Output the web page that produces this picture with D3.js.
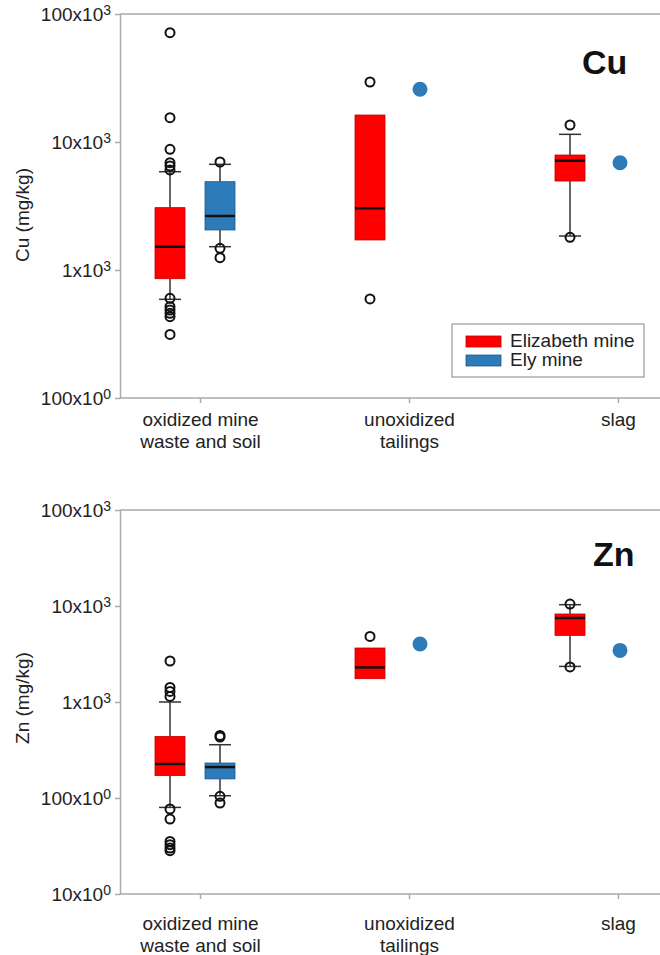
<!DOCTYPE html>
<html>
<head>
<meta charset="utf-8">
<script src="https://cdn.jsdelivr.net/npm/d3@7"></script>
<style>
  body { margin: 0; background: #fff; }
  svg { font-family: "Liberation Sans", Arial, sans-serif; }
</style>
</head>
<body>
<div id="chart"></div>
<script>
// categories and series
const categories = ["oxidized mine waste and soil", "unoxidized tailings", "slag"];
const categoryLines = [["oxidized mine", "waste and soil"], ["unoxidized", "tailings"], ["slag"]];
const mines = ["Elizabeth mine", "Ely mine"];
const mineColors = ["#ff0000", "#2e7bba"];

// box stats: [lower whisker, q1, median, q3, upper whisker] (null = not drawn)
const cuElizabeth = [[590, 855, 1520, 3070, 5860], [null, 1716, 3034, 16250, null], [1843, 4956, 7142, 7913, 11480]];
const cuElizabethOutliers = [[71450, 15490, 8770, 6890, 6494, 6045, 601, 517, 487, 459, 432, 314], [29420, 594], [13580, 1800]];
const cuEly = [[1521, 2054, 2642, 4896, 6690], null, null];
const cuElyOutliers = [[6980, 1477, 1248], [], []];
const cuElyPoints = [null, 25800, 6890];

const znElizabeth = [[79.8, 171, 226, 438, 1000], [null, 1749, 2291, 3651, null], [2349, 4943, 7499, 8254, 10320]];
const znElizabethOutliers = [[2673, 1419, 1290, 1144, 76.8, 60.4, 35.3, 32.6, 30.1, 28.3], [4822], [10480, 2316]];
const znEly = [[105.6, 158, 210, 231.5, 359], null, null];
const znElyOutliers = [[449, 432, 104, 88.7], [], []];
const znElyPoints = [null, 4018, 3448];

const cuTicks = [100, 1000, 10000, 100000];
const cuTickLabels = [["100x10", "0"], ["1x10", "3"], ["10x10", "3"], ["100x10", "3"]];
const znTicks = [10, 100, 1000, 10000, 100000];
const znTickLabels = [["10x10", "0"], ["100x10", "0"], ["1x10", "3"], ["10x10", "3"], ["100x10", "3"]];

const width = 660, height = 955;
const left = 120, right = 660;

const svg = d3.select("#chart").append("svg")
  .attr("width", width)
  .attr("height", height);

// group positions (boxes) and tick positions (labels)
const xGroup = d3.scalePoint().domain(categories).range([195, 595]);
const xTick = d3.scalePoint().domain(categories).range([200, 618]);
const offset = 25, boxW = 30, capW = 22;

const panels = [
  { el: "Cu", title: "Cu (mg/kg)", top: 14, bottom: 398, domain: [100, 100000],
    ticks: cuTicks, tickLabels: cuTickLabels, labelY: 215, catOffset: 28,
    eliz: cuElizabeth, elizOut: cuElizabethOutliers, ely: cuEly, elyOut: cuElyOutliers, elyPts: cuElyPoints,
    elX: 582, elY: 74, legend: true },
  { el: "Zn", title: "Zn (mg/kg)", top: 510, bottom: 894, domain: [10, 100000],
    ticks: znTicks, tickLabels: znTickLabels, labelY: 698, catOffset: 36,
    eliz: znElizabeth, elizOut: znElizabethOutliers, ely: znEly, elyOut: znElyOutliers, elyPts: znElyPoints,
    elX: 593, elY: 566, legend: false }
];

function drawBox(g, y, cx, s, color, stroke) {
  if (!s) return;
  const [lo, q1, med, q3, hi] = s;
  if (hi != null) {
    g.append("line").attr("x1", cx).attr("x2", cx).attr("y1", y(q3)).attr("y2", y(hi))
      .attr("stroke", "#333").attr("stroke-width", 1.5);
    g.append("line").attr("x1", cx - capW / 2).attr("x2", cx + capW / 2).attr("y1", y(hi)).attr("y2", y(hi))
      .attr("stroke", "#333").attr("stroke-width", 1.5);
  }
  if (lo != null) {
    g.append("line").attr("x1", cx).attr("x2", cx).attr("y1", y(q1)).attr("y2", y(lo))
      .attr("stroke", "#333").attr("stroke-width", 1.5);
    g.append("line").attr("x1", cx - capW / 2).attr("x2", cx + capW / 2).attr("y1", y(lo)).attr("y2", y(lo))
      .attr("stroke", "#333").attr("stroke-width", 1.5);
  }
  g.append("rect")
    .attr("x", cx - boxW / 2).attr("width", boxW)
    .attr("y", y(q3)).attr("height", y(q1) - y(q3))
    .attr("fill", color).attr("stroke", stroke).attr("stroke-width", 0.8);
  g.append("line").attr("x1", cx - boxW / 2).attr("x2", cx + boxW / 2).attr("y1", y(med)).attr("y2", y(med))
    .attr("stroke", "#111").attr("stroke-width", 2.5);
}

function drawOutliers(g, y, cx, vals) {
  g.selectAll(null).data(vals).enter().append("circle")
    .attr("cx", cx).attr("cy", d => y(d)).attr("r", 4.5)
    .attr("fill", "none").attr("stroke", "#111").attr("stroke-width", 2);
}

panels.forEach(p => {
  const y = d3.scaleLog().domain(p.domain).range([p.bottom, p.top]);
  const g = svg.append("g");

  // frame lines
  g.append("line").attr("x1", left).attr("x2", right).attr("y1", p.top).attr("y2", p.top)
    .attr("stroke", "#aaa").attr("stroke-width", 1.5);
  g.append("line").attr("x1", left).attr("x2", right).attr("y1", p.bottom).attr("y2", p.bottom)
    .attr("stroke", "#aaa").attr("stroke-width", 1.5);

  // y axis
  const yAxis = g.append("g").attr("transform", `translate(${left},0)`)
    .call(d3.axisLeft(y).tickValues(p.ticks).tickSize(5).tickSizeOuter(0).tickFormat(() => ""));
  yAxis.select(".domain").attr("stroke", "#aaa").attr("stroke-width", 1.5);
  yAxis.selectAll(".tick line").attr("stroke", "#aaa").attr("stroke-width", 1.5);
  yAxis.selectAll(".tick text").each(function (d, i) {
    const t = d3.select(this).attr("x", -9).attr("dy", "0.36em")
      .attr("fill", "#222").style("font-size", "19px");
    t.append("tspan").text(p.tickLabels[i][0]);
    t.append("tspan").attr("dy", "-0.45em").style("font-size", "14px").text(p.tickLabels[i][1]);
  });

  // x axis ticks + labels
  const xAxis = g.append("g").attr("transform", `translate(0,${p.bottom})`)
    .call(d3.axisBottom(xTick).tickSize(5).tickSizeOuter(0).tickFormat(() => ""));
  xAxis.select(".domain").remove();
  xAxis.selectAll(".tick line").attr("stroke", "#aaa").attr("stroke-width", 1.5);
  xAxis.selectAll(".tick text").each(function (d, i) {
    const t = d3.select(this).attr("y", p.catOffset).attr("dy", 0)
      .attr("fill", "#222").style("font-size", "19px");
    categoryLines[i].forEach((line, j) => {
      t.append("tspan").attr("x", 0).attr("dy", j === 0 ? 0 : 22).text(line);
    });
  });

  // y title
  g.append("text")
    .attr("transform", `translate(29,${p.labelY}) rotate(-90)`)
    .attr("text-anchor", "middle")
    .attr("fill", "#222").style("font-size", "19px")
    .text(p.title);

  // element label
  g.append("text").attr("x", p.elX).attr("y", p.elY)
    .style("font-size", "34px").style("font-weight", "bold").attr("fill", "#111")
    .text(p.el);

  // boxes
  categories.forEach((c, i) => {
    const cx0 = xGroup(c) - offset, cx1 = xGroup(c) + offset;
    drawBox(g, y, cx0, p.eliz[i], mineColors[0], "#c00000");
    drawOutliers(g, y, cx0, p.elizOut[i]);
    drawBox(g, y, cx1, p.ely[i], mineColors[1], "#1d5a8c");
    drawOutliers(g, y, cx1, p.elyOut[i]);
    if (p.elyPts[i] != null) {
      g.append("circle").attr("cx", cx1).attr("cy", y(p.elyPts[i])).attr("r", 7.5)
        .attr("fill", mineColors[1]);
    }
  });

  if (p.legend) {
    const lg = g.append("g").attr("transform", "translate(452,324)");
    lg.append("rect").attr("width", 192).attr("height", 53)
      .attr("fill", "#fff").attr("stroke", "#999").attr("stroke-width", 1.2);
    mines.forEach((m, i) => {
      lg.append("rect").attr("x", 14).attr("y", 12 + i * 19).attr("width", 35).attr("height", 11)
        .attr("fill", mineColors[i]).attr("stroke", i === 0 ? "#c00000" : "#1d5a8c").attr("stroke-width", 0.8);
      lg.append("text").attr("x", 58).attr("y", 22.5 + i * 19.5)
        .attr("fill", "#222").style("font-size", "19px").text(m);
    });
  }
});
</script>
</body>
</html>
